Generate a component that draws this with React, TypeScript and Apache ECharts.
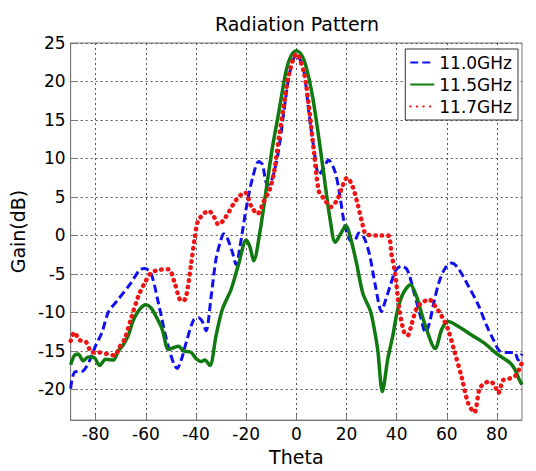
import React, { useEffect, useRef } from "react";
import * as echarts from "echarts";

const titleText = "Radiation Pattern";
const seriesNames = ["11.0GHz", "11.5GHz", "11.7GHz"];
const xTicks = [-80, -60, -40, -20, 0, 20, 40, 60, 80];
const yTicks = [-20, -15, -10, -5, 0, 5, 10, 15, 20, 25];

const theta110 = [-90, -88.5, -85, -82.5, -80, -77.5, -75, -71, -66, -62.5, -60.5, -58, -55, -51, -47.5, -46, -44, -41, -39, -37.5, -36, -34, -32, -30, -29, -27.5, -25.5, -24, -22.5, -20, -17.5, -15, -13.5, -12.5, -11.5, -9.5, -7, -5, -3.2, -1.5, 0, 1.5, 3.2, 5, 7, 9, 10.9, 12.8, 15.4, 17.3, 19.2, 21.5, 23, 25, 27, 29.2, 31.5, 34, 35.5, 37.5, 39.7, 42, 44.3, 47, 49.5, 51.5, 53, 55, 57, 59.3, 62, 64.6, 68.5, 72.5, 76, 78.5, 81, 84, 87, 88.5, 90];
const gain110 = [-19.9, -17.8, -17.6, -16.3, -14.3, -12.6, -10, -8.3, -6.2, -4.5, -4.3, -4.9, -8.8, -14.5, -17.3, -16.3, -14, -11, -10.7, -11.2, -12.4, -8, -3, -0.5, 0.2, -0.4, -2.2, -3.8, -1.5, 3.5, 7.4, 9.6, 9.2, 7.5, 6.5, 7.5, 11.2, 16, 20.2, 22.6, 23.4, 22.8, 21, 16, 11.3, 7.9, 8.7, 9.8, 8.3, 5.3, 1.5, -0.7, -0.8, 0.3, -0.3, -2.5, -6.5, -9.9, -8.5, -6.5, -4.5, -4, -4.5, -7.5, -10.5, -12.6, -11.5, -8.5, -6, -4.3, -3.6, -4.3, -6.5, -9, -11.8, -13.5, -15, -15.2, -15.2, -16.2, -15.4];

const theta115 = [-90, -88.5, -87, -85, -83, -80.5, -78.5, -76, -73, -71, -69, -67, -65, -62.5, -60, -58, -56, -53.5, -51, -49, -47, -45, -42, -40, -38, -36.5, -34.5, -32, -29.5, -26, -23, -20, -18.5, -17, -14.5, -12, -9.5, -7, -4, -2, 0, 2, 4, 6.5, 9, 11.5, 13.5, 15.5, 17.5, 19.8, 21.6, 24, 26.5, 29.5, 31, 32.5, 34.3, 36.5, 38.5, 40.3, 42.5, 45.5, 48, 51.5, 55.4, 58, 60.6, 64, 69.7, 75, 80, 85, 87, 89, 90];
const gain115 = [-16.8, -15.6, -15.4, -16.3, -15.8, -15.9, -16.9, -16.1, -16.2, -15, -14.2, -13, -11, -9.6, -9, -9.4, -10.5, -12.2, -14.8, -14.6, -14.4, -15, -15.2, -16, -16.4, -16.2, -16.9, -13, -9.6, -7, -3.7, -0.6, -1.5, -3.3, 0.5, 6, 11.5, 16, 21.5, 23.4, 24, 23.5, 21.8, 18, 12.6, 6.6, 2, -0.9, 0.1, 1.3, -0.3, -3.6, -7.5, -9.8, -12, -15, -20.3, -16, -13, -9.8, -7.6, -6.4, -8, -11.8, -14.7, -12.2, -11.2, -11.7, -12.9, -14, -15.4, -16.5, -17.3, -18.8, -19.4];

const theta117 = [-90, -88.5, -86.5, -84, -81.5, -79, -75.5, -72.5, -70.5, -68.5, -66, -63, -60.5, -58, -55, -51, -48.5, -46.5, -45, -43.8, -42, -40.5, -39.3, -37, -35, -33, -31, -29, -27, -24, -20.5, -18, -15.5, -13, -10.6, -9, -7, -5, -3, 0, 3, 5, 7, 9, 11, 13.8, 16.4, 18.5, 20.3, 22.5, 24.5, 26, 28, 33, 36.5, 38, 39.5, 41, 43, 44.4, 46, 48.2, 50.5, 52.8, 55.4, 58, 60.6, 63, 66, 68.5, 71, 73, 75, 77.5, 79.5, 80.5, 82.5, 85, 87.5, 89, 90];
const gain117 = [-13.7, -12.6, -13.6, -13.8, -15.2, -15.2, -15.4, -15.6, -14.5, -13.5, -10.9, -7.9, -6.2, -4.9, -4.5, -4.4, -6.2, -8.3, -8.5, -7.7, -3.8, -0.3, 1.8, 2.8, 3.2, 2.5, 1.4, 2, 3, 4.6, 5.6, 3.8, 2.8, 4.4, 6, 8, 12.6, 16.8, 20.8, 23.6, 21.2, 16.8, 10.9, 5.7, 4.8, 3.7, 4.7, 6.5, 7.5, 6.3, 4, 2, 0.1, 0, 0, -2.5, -5.2, -9.5, -12.6, -13, -11.5, -9.3, -8.7, -8.3, -9.2, -10.5, -12.3, -15, -18.5, -21.8, -23, -20, -19.2, -19, -19.8, -20.5, -18.8, -18.6, -18.2, -17.3, -16.5];

const zip = (xs: number[], ys: number[]) => xs.map((x, i) => [x, ys[i]]);

const FONT = "DejaVu Sans";

export default function App() {
  const ref = useRef<HTMLDivElement>(null);
  useEffect(() => {
    if (!ref.current) return;
    const chart = echarts.init(ref.current, undefined, { renderer: "svg" });
    const gridLine = { show: true, lineStyle: { color: "#555", type: [2, 3] as any, width: 1 } };
    chart.setOption({
      animation: false,
      backgroundColor: "#fff",
      title: {
        text: titleText,
        left: 292,
        textAlign: "center",
        top: 9,
        textStyle: { fontFamily: FONT, fontSize: 19, fontWeight: "normal", color: "#000" },
      },
      legend: {
        orient: "vertical",
        right: 18,
        top: 49,
        data: seriesNames,
        itemWidth: 24,
        itemHeight: 14,
        itemGap: 5,
        padding: [5, 6, 5, 4],
        borderColor: "#333",
        borderWidth: 1,
        backgroundColor: "#fff",
        itemStyle: { opacity: 0, borderWidth: 0 },
        textStyle: { fontFamily: FONT, fontSize: 17, color: "#000" },
      },
      grid: { left: 63, right: 14, top: 43, bottom: 44, show: true, borderColor: "#777", borderWidth: 1 },
      xAxis: {
        type: "value",
        min: -90,
        max: 90,
        name: "Theta",
        nameLocation: "middle",
        nameGap: 14,
        nameTextStyle: { fontFamily: FONT, fontSize: 19, color: "#000" },
        axisLine: { show: true, onZero: false, lineStyle: { color: "#777" } },
        axisTick: { show: true, inside: true, length: 5, customValues: xTicks, lineStyle: { color: "#777" } },
        axisLabel: { customValues: xTicks, fontFamily: FONT, fontSize: 17, color: "#000", margin: 5 },
        splitLine: gridLine,
      },
      yAxis: {
        type: "value",
        min: -24,
        max: 25,
        name: "Gain(dB)",
        nameLocation: "middle",
        nameGap: 38,
        nameTextStyle: { fontFamily: FONT, fontSize: 19, color: "#000" },
        axisLine: { show: true, onZero: false, lineStyle: { color: "#777" } },
        axisTick: { show: true, inside: true, length: 5, customValues: yTicks, lineStyle: { color: "#777" } },
        axisLabel: { customValues: yTicks, fontFamily: FONT, fontSize: 17, color: "#000", margin: 5 },
        splitLine: gridLine,
      },
      series: [
        {
          name: seriesNames[0],
          type: "line",
          data: zip(theta110, gain110),
          showSymbol: false,
          symbol: "none",
          smooth: 0.3,
          lineStyle: { color: "#1010ee", width: 3, type: [8, 4] },
          itemStyle: { color: "#1010ee" },
          z: 3,
        },
        {
          name: seriesNames[1],
          type: "line",
          data: zip(theta115, gain115),
          showSymbol: false,
          symbol: "none",
          smooth: 0.3,
          lineStyle: { color: "#107a10", width: 3.5, type: "solid" },
          itemStyle: { color: "#107a10" },
          z: 4,
        },
        {
          name: seriesNames[2],
          type: "line",
          data: zip(theta117, gain117),
          showSymbol: false,
          symbol: "none",
          smooth: 0.3,
          lineStyle: { color: "#ee1515", width: 4.5, type: [0.5, 6], cap: "round" },
          itemStyle: { color: "#ee1515" },
          z: 5,
        },
      ],
    });
    return () => chart.dispose();
  }, []);
  return <div ref={ref} style={{ width: 536, height: 471, position: "absolute", left: 0, top: 0 }} />;
}
